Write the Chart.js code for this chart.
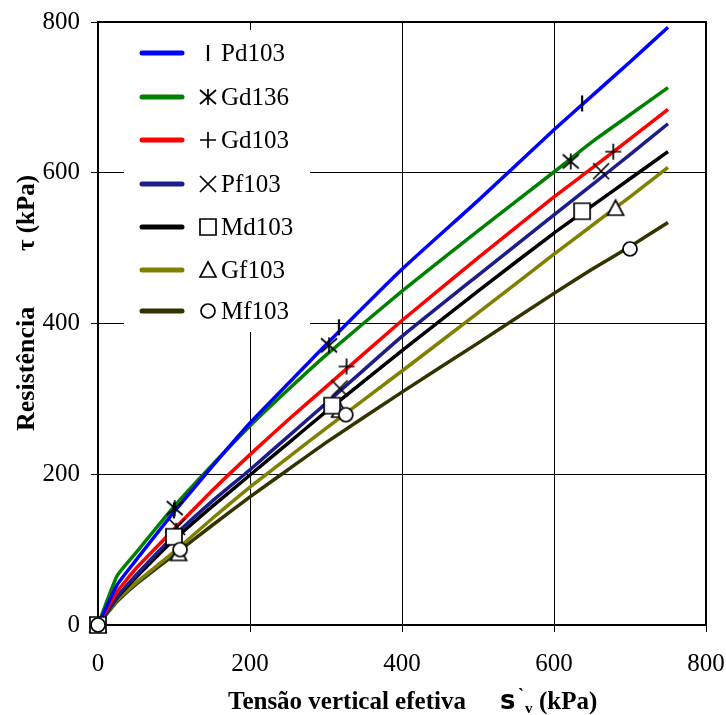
<!DOCTYPE html>
<html>
<head>
<meta charset="utf-8">
<script src="https://cdn.jsdelivr.net/npm/chart.js@4.4.1/dist/chart.umd.min.js"></script>
<style>
  html, body { margin: 0; padding: 0; background: #fff; }
  #wrap { width: 726px; height: 715px; }
</style>
</head>
<body>
<div id="wrap"><canvas id="c" width="726" height="715"></canvas></div>
<script>
// Effective vertical stress (kPa) at which the fitted curves are tabulated
const sigmaCurve = [0, 25, 50, 100, 150, 200, 250, 300, 400, 500, 600, 650, 700, 750];

// Fitted shear strength curves (kPa)
const curvePd103 = [0, 53, 86, 150, 210, 268, 320, 372, 472, 563, 657, 702, 747, 793];
const curveGd136 = [0, 65, 96, 157, 212, 264, 312, 358, 443, 523, 601, 641, 677, 713];
const curveGd103 = [0, 44, 75, 127, 178, 226, 272, 316, 404, 487, 568, 606, 645, 684];
const curvePf103 = [0, 37, 66, 118, 164, 206, 250, 294, 383, 464, 544, 584, 624, 665];
const curveMd103 = [0, 36, 63, 113, 157, 199, 241, 283, 364, 443, 520, 556, 592, 628];
const curveGf103 = [0, 33, 56, 97, 141, 183, 222, 261, 337, 414, 492, 530, 568, 607];
const curveMf103 = [0, 31, 54, 93, 132, 170, 206, 242, 309, 374, 440, 472, 502, 534];

// Measured points: effective vertical stress and shear strength (kPa)
const testPd103X = [0, 100, 317, 637];
const testPd103Y = [0, 152, 395, 692];
const testGd136X = [0, 101, 304, 622];
const testGd136Y = [0, 155, 371, 615];
const testGd103X = [0, 103, 327, 678];
const testGd103Y = [0, 125, 343, 628];
const testPf103X = [0, 104, 318, 662];
const testPf103Y = [0, 130, 314, 602];
const testMd103X = [0, 100, 308, 637];
const testMd103Y = [0, 117, 291, 549];
const testGf103X = [0, 106, 318, 681];
const testGf103Y = [0, 95, 285, 553];
const testMf103X = [0, 108, 326, 700];
const testMf103Y = [0, 100, 279, 499];

const seriesNames = ['Pd103', 'Gd136', 'Gd103', 'Pf103', 'Md103', 'Gf103', 'Mf103'];
const xTicks = [0, 200, 400, 600, 800];
const yTicks = [0, 200, 400, 600, 800];

const curves = [curvePd103, curveGd136, curveGd103, curvePf103, curveMd103, curveGf103, curveMf103];
const testsX = [testPd103X, testGd136X, testGd103X, testPf103X, testMd103X, testGf103X, testMf103X];
const testsY = [testPd103Y, testGd136Y, testGd103Y, testPf103Y, testMd103Y, testGf103Y, testMf103Y];
const lineColors = ['#0000ff', '#008000', '#ff0000', '#1c1c8a', '#000000', '#808000', '#333300'];
const markerKinds = ['bar', 'aster', 'plus', 'cross', 'square', 'triangle', 'circle'];
// stacking of the open markers: lower value is painted on top
const markerOrder = [1.6, 1.5, 1.4, 1.3, 1.1, 1.2, 1.0];

// Marker glyphs drawn once onto small canvases and used as point styles
function makeMarker(kind) {
  const s = 20;
  const cv = document.createElement('canvas');
  cv.width = s; cv.height = s;
  const g = cv.getContext('2d');
  const c = s / 2;
  g.strokeStyle = '#000';
  g.fillStyle = '#fff';
  g.lineWidth = 1.7;
  g.beginPath();
  if (kind === 'bar') {
    g.lineWidth = 2.2;
    g.moveTo(c, c - 8); g.lineTo(c, c + 8);
    g.stroke();
  } else if (kind === 'aster') {
    g.moveTo(c, c - 8); g.lineTo(c, c + 8);
    g.moveTo(c - 8, c - 7); g.lineTo(c + 8, c + 7);
    g.moveTo(c - 8, c + 7); g.lineTo(c + 8, c - 7);
    g.stroke();
  } else if (kind === 'plus') {
    g.moveTo(c, c - 8); g.lineTo(c, c + 8);
    g.moveTo(c - 8, c); g.lineTo(c + 8, c);
    g.stroke();
  } else if (kind === 'cross') {
    g.moveTo(c - 8, c - 8); g.lineTo(c + 8, c + 8);
    g.moveTo(c - 8, c + 8); g.lineTo(c + 8, c - 8);
    g.stroke();
  } else if (kind === 'square') {
    g.rect(c - 8, c - 8, 16, 16);
    g.fill(); g.stroke();
  } else if (kind === 'triangle') {
    g.moveTo(c, c - 8); g.lineTo(c + 8, c + 7); g.lineTo(c - 8, c + 7); g.closePath();
    g.fill(); g.stroke();
  } else if (kind === 'circle') {
    g.arc(c, c, 7, 0, Math.PI * 2);
    g.fill(); g.stroke();
  }
  return cv;
}
const markers = markerKinds.map(makeMarker);

const datasets = [];
curves.forEach((vals, i) => {
  datasets.push({
    label: seriesNames[i],
    data: sigmaCurve.map((x, k) => ({ x: x, y: vals[k] })),
    borderColor: lineColors[i],
    borderWidth: 3.5,
    pointRadius: 0,
    fill: false,
    tension: 0.15,
    order: 2 + i
  });
});
testsX.forEach((xs, i) => {
  datasets.push({
    label: seriesNames[i] + ' ensaio',
    data: xs.map((x, k) => ({ x: x, y: testsY[i][k] })),
    showLine: false,
    pointStyle: markers[i],
    pointRadius: 8,
    clip: false,
    order: markerOrder[i]
  });
});

const FONT = '"Liberation Serif", "Times New Roman", serif';

// Frame, legend box and axis titles
const decorations = {
  id: 'decorations',
  beforeDatasetsDraw(chart) {
    const ctx = chart.ctx;
    const a = chart.chartArea;
    ctx.save();
    // top and right frame lines
    ctx.strokeStyle = '#000';
    ctx.lineWidth = 2;
    ctx.beginPath();
    ctx.moveTo(a.left, a.top); ctx.lineTo(a.right, a.top); ctx.lineTo(a.right, a.bottom);
    ctx.stroke();
    // legend background hides the grid behind it
    ctx.fillStyle = '#fff';
    ctx.fillRect(124, 30, 186, 302);
    ctx.restore();
  },
  afterDraw(chart) {
    const ctx = chart.ctx;
    ctx.save();
    // legend entries
    const rowY = [53, 97, 140, 184, 227, 270, 311];
    seriesNames.forEach((name, i) => {
      const y = rowY[i];
      ctx.strokeStyle = lineColors[i];
      ctx.lineWidth = 5;
      ctx.lineCap = 'round';
      ctx.beginPath();
      ctx.moveTo(142, y); ctx.lineTo(182, y);
      ctx.stroke();
      ctx.drawImage(markers[i], 208 - 10, y - 10);
      ctx.fillStyle = '#000';
      ctx.font = '25px ' + FONT;
      ctx.textAlign = 'left';
      ctx.textBaseline = 'middle';
      ctx.fillText(name, 221, y + 1);
    });

    // x axis title
    ctx.fillStyle = '#000';
    ctx.textBaseline = 'alphabetic';
    ctx.textAlign = 'left';
    ctx.font = 'bold 25px ' + FONT;
    ctx.fillText('Tensão vertical efetiva', 228, 709);
    ctx.font = 'bold 26px "DejaVu Sans", sans-serif';
    ctx.fillText('s', 500, 709);
    ctx.font = 'bold 18px ' + FONT;
    ctx.fillText('`', 518, 701);
    ctx.font = 'bold 15px ' + FONT;
    ctx.fillText('v', 525, 713);
    ctx.font = 'bold 25px ' + FONT;
    ctx.fillText('(kPa)', 539, 709);

    // y axis title
    ctx.save();
    ctx.translate(34, 431);
    ctx.rotate(-Math.PI / 2);
    ctx.font = 'bold 26px ' + FONT;
    ctx.fillText('Resistência', 0, 0);
    ctx.restore();
    ctx.save();
    ctx.translate(34, 251);
    ctx.rotate(-Math.PI / 2);
    ctx.font = 'bold 25px ' + FONT;
    ctx.fillText('τ (kPa)', 0, 0);
    ctx.restore();

    ctx.restore();
  }
};

new Chart(document.getElementById('c'), {
  type: 'line',
  data: { datasets: datasets },
  options: {
    responsive: false,
    animation: false,
    devicePixelRatio: 1,
    layout: { padding: { top: 22, right: 20, left: 0, bottom: 0 } },
    plugins: {
      legend: { display: false },
      tooltip: { enabled: false }
    },
    scales: {
      x: {
        type: 'linear',
        min: 0, max: 800,
        afterBuildTicks: s => { s.ticks = xTicks.map(v => ({ value: v })); },
        afterFit: s => { s.height = 90; s.paddingLeft = 0; s.paddingRight = 0; },
        ticks: { color: '#000', font: { family: FONT, size: 25 }, padding: 17, maxRotation: 0 },
        grid: { color: '#000', lineWidth: 1, tickLength: 7, drawTicks: true },
        border: { color: '#000', width: 2 }
      },
      y: {
        type: 'linear',
        min: 0, max: 800,
        afterBuildTicks: s => { s.ticks = yTicks.map(v => ({ value: v })); },
        afterFit: s => { s.width = 98; s.paddingTop = 0; s.paddingBottom = 0; },
        ticks: { color: '#000', font: { family: FONT, size: 25 }, padding: 11 },
        grid: { color: '#000', lineWidth: 1, tickLength: 7, drawTicks: true },
        border: { color: '#000', width: 2 }
      }
    }
  },
  plugins: [decorations]
});
</script>
</body>
</html>
